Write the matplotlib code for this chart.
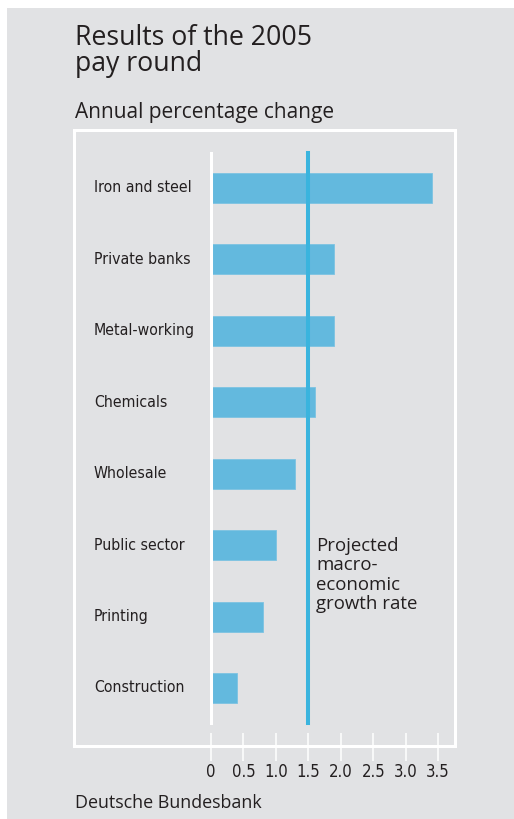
import matplotlib
matplotlib.use("Agg")
import matplotlib.pyplot as plt
from matplotlib import font_manager as fm
from matplotlib.patches import Rectangle
from matplotlib.transforms import blended_transform_factory

categories = ["Iron and steel", "Private banks", "Metal-working", "Chemicals",
              "Wholesale", "Public sector", "Printing", "Construction"]
values = [3.4, 1.9, 1.9, 1.6, 1.3, 1.0, 0.8, 0.4]
growth_rate = 1.5
xticks = [0, 0.5, 1.0, 1.5, 2.0, 2.5, 3.0, 3.5]
xtick_labels = ["0", "0.5", "1.0", "1.5", "2.0", "2.5", "3.0", "3.5"]
title_lines = ["Results of the 2005", "pay round"]
subtitle = "Annual percentage change"
note = "Projected\nmacro-\neconomic\ngrowth rate"
source = "Deutsche Bundesbank"

W, H = 514, 819
BG = "#e1e2e4"
BAR = "#63b9de"
LINE = "#3ab4de"
TXT = "#231f20"
MAIN = ["Open Sans", "DejaVu Sans"]

# pick a condensed face if one is installed
cond = [f for f in fm.fontManager.ttflist
        if ("Condensed" in f.name or "Narrow" in f.name or str(f.stretch) in ("condensed", "semi-condensed"))
        and f.style == "normal" and f.weight in (400, "normal", "regular")]
if cond:
    CAT_PROPS = dict(fontproperties=fm.FontProperties(fname=cond[0].fname, size=11.3))
    TICK_PROPS = dict(fontproperties=fm.FontProperties(fname=cond[0].fname, size=12))
else:
    CAT_PROPS = dict(family=["Roboto", "DejaVu Sans"], fontsize=11.0)
    TICK_PROPS = dict(family=["Roboto", "DejaVu Sans"], fontsize=11.5)

def fx(x):
    return x / W

def fy(y):
    return 1 - y / H

fig = plt.figure(figsize=(W / 100, H / 100), dpi=100)
fig.patch.set_facecolor("white")
fig.patches.append(Rectangle((fx(7), 0), 1 - fx(7), fy(8), transform=fig.transFigure,
                             facecolor=BG, edgecolor="none", zorder=-2))
fig.patches.append(Rectangle((fx(74), fy(746)), fx(455) - fx(74), fy(130) - fy(746),
                             transform=fig.transFigure, facecolor="none",
                             edgecolor="white", linewidth=2.2, zorder=-1))

x0_px, unit_px = 211, 64.9
xmax = 3.6
ax_top, ax_bot = 153, 723
ax = fig.add_axes([fx(x0_px), fy(ax_bot), (unit_px * xmax) / W, (ax_bot - ax_top) / H])
ax.set_facecolor("none")
ax.set_xlim(0, xmax)
ax.set_ylim(7.49, -0.49)
for s in ax.spines.values():
    s.set_visible(False)
ax.spines["bottom"].set_position(("outward", 7))

ypos = list(range(len(categories)))
ax.barh(ypos, values, height=0.42, color=BAR, edgecolor="#7cc3e2", linewidth=0.6, zorder=2)
ax.axvline(0, color="white", linewidth=2.2, zorder=3, clip_on=False)
ax.axvline(growth_rate, color=LINE, linewidth=2.9, zorder=4, clip_on=False)

ax.set_yticks([])
ax.set_xticks(xticks)
ax.set_xticklabels(xtick_labels, color=TXT, **TICK_PROPS)
ax.tick_params(axis="x", direction="out", length=20, width=1.1, color="white", pad=2)

tr = blended_transform_factory(fig.transFigure, ax.transData)
for i, c in enumerate(categories):
    ax.text(fx(94), i, c, transform=tr, ha="left", va="center", color=TXT, **CAT_PROPS)

fig.text(fx(316), fy(537), note, ha="left", va="top", family=MAIN, fontsize=13.4,
         color=TXT, linespacing=1.1)

fig.text(fx(75), fy(45), title_lines[0], ha="left", va="baseline", family=MAIN,
         fontsize=19.2, color=TXT)
fig.text(fx(75), fy(71), title_lines[1], ha="left", va="baseline", family=MAIN,
         fontsize=19.2, color=TXT)
fig.text(fx(75), fy(118), subtitle, ha="left", va="baseline", family=MAIN,
         fontsize=15, color=TXT)
fig.text(fx(75), fy(808), source, ha="left", va="baseline", family=MAIN,
         fontsize=12.9, color=TXT)

fig.savefig("out.png", dpi=100, facecolor=fig.get_facecolor())
